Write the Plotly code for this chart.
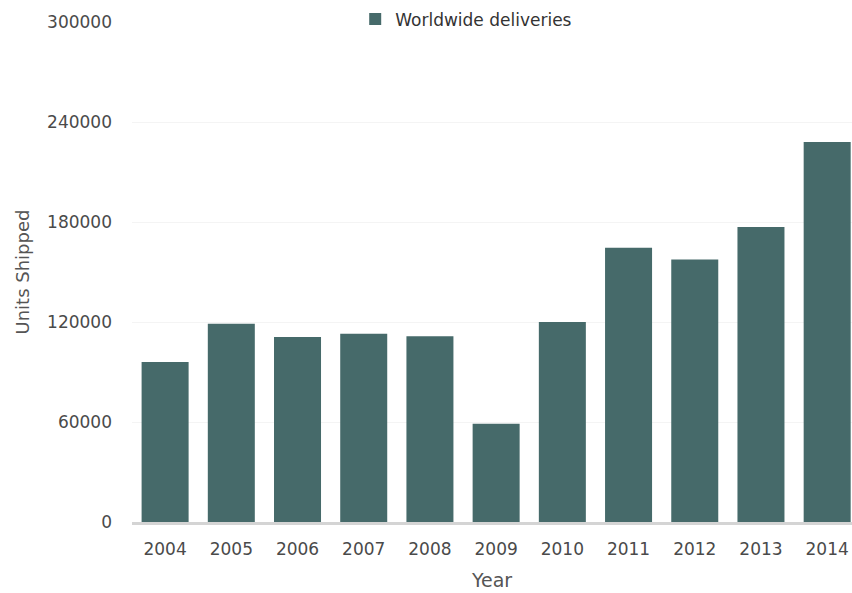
import plotly.graph_objects as go

years = ["2004", "2005", "2006", "2007", "2008", "2009", "2010", "2011", "2012", "2013", "2014"]
deliveries = [96000, 119000, 111000, 113000, 111500, 59000, 120000, 164500, 157500, 177000, 228000]
y_ticks = [0, 60000, 120000, 180000, 240000, 300000]

FONT = "DejaVu Sans, Liberation Sans, Arial, sans-serif"

fig = go.Figure()
fig.add_trace(go.Bar(
    x=years, y=deliveries, name="Worldwide deliveries",
    marker=dict(color="#466a6a", line=dict(width=0)),
    width=0.71, showlegend=True,
))

fig.update_layout(
    width=852, height=593,
    margin=dict(l=132, r=0, t=22, b=71),
    paper_bgcolor="white", plot_bgcolor="white",
    font=dict(family=FONT, size=17, color="#4a4a4a"),
    showlegend=True,
    legend=dict(x=0.31, y=1.005, xanchor="left", yanchor="middle", orientation="h",
                font=dict(family=FONT, size=17, color="#333"), bgcolor="rgba(0,0,0,0)"),
    xaxis=dict(title=dict(text="Year", font=dict(family=FONT, size=19, color="#555"), standoff=16),
               range=[-0.5, 10.375],
               showline=True, linecolor="#d4d4d4", linewidth=3, ticks="",
               showgrid=False, tickfont=dict(family=FONT, size=17, color="#4a4a4a"),
               ticklabelstandoff=10),
    yaxis=dict(title=dict(text="Units Shipped", font=dict(family=FONT, size=18, color="#555"), standoff=12),
               range=[0, 300000], tickvals=y_ticks, ticktext=[str(v) for v in y_ticks],
               showgrid=True, gridcolor="#f4f4f4", gridwidth=1, zeroline=False,
               showline=False, ticks="", tickfont=dict(family=FONT, size=17, color="#4a4a4a"),
               ticklabelstandoff=19),
)

fig.write_html("out.html")
